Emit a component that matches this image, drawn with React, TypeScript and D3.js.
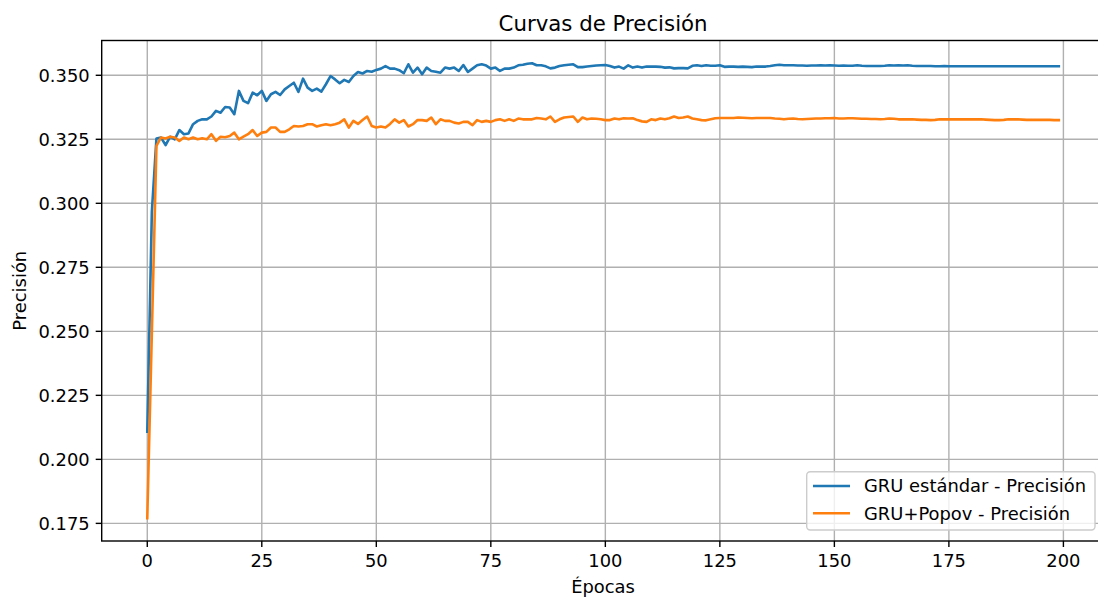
import React from "react";
import * as d3 from "d3";

const epochs: number[] = Array.from({ length: 200 }, (_, i) => i);

const gruStandard: number[] = [
  0.2108, 0.2967, 0.3253, 0.3257, 0.3227, 0.3260, 0.3250, 0.3286, 0.3270, 0.3273,
  0.3309, 0.3322, 0.3328, 0.3328, 0.3339, 0.3361, 0.3354, 0.3376, 0.3374, 0.3348,
  0.3439, 0.3400, 0.3391, 0.3432, 0.3422, 0.3439, 0.3400, 0.3426, 0.3435, 0.3423,
  0.3445, 0.3458, 0.3471, 0.3435, 0.3487, 0.3452, 0.3439, 0.3448, 0.3436, 0.3465,
  0.3497, 0.3484, 0.3469, 0.3482, 0.3474, 0.3497, 0.3513, 0.3507, 0.3517, 0.3514,
  0.3521, 0.3526, 0.3536, 0.3526, 0.3526, 0.3520, 0.3508, 0.3543, 0.3510, 0.3530,
  0.3504, 0.3530, 0.3517, 0.3514, 0.3510, 0.3530, 0.3526, 0.3530, 0.3517, 0.3540,
  0.3513, 0.3526, 0.3539, 0.3543, 0.3538, 0.3526, 0.3530, 0.3517, 0.3526, 0.3526,
  0.3530, 0.3539, 0.3541, 0.3545, 0.3547, 0.3539, 0.3539, 0.3535, 0.3527, 0.3530,
  0.3536, 0.3539, 0.3541, 0.3543, 0.3532, 0.3532, 0.3534, 0.3536, 0.3538, 0.3539,
  0.3540, 0.3536, 0.3530, 0.3534, 0.3526, 0.3539, 0.3530, 0.3534, 0.3530, 0.3534,
  0.3534, 0.3534, 0.3533, 0.3530, 0.3531, 0.3527, 0.3528, 0.3528, 0.3527, 0.3537,
  0.3539, 0.3536, 0.3539, 0.3537, 0.3537, 0.3539, 0.3533, 0.3534, 0.3534, 0.3533,
  0.3534, 0.3533, 0.3532, 0.3534, 0.3534, 0.3534, 0.3536, 0.3539, 0.3541, 0.3539,
  0.3539, 0.3539, 0.3538, 0.3538, 0.3537, 0.3538, 0.3538, 0.3539, 0.3538, 0.3539,
  0.3538, 0.3537, 0.3538, 0.3537, 0.3537, 0.3539, 0.3537, 0.3536, 0.3536, 0.3536,
  0.3536, 0.3537, 0.3539, 0.3538, 0.3539, 0.3538, 0.3539, 0.3537, 0.3536, 0.3536,
  0.3536, 0.3536, 0.3535, 0.3535, 0.3536, 0.3535, 0.3535, 0.3535, 0.3535, 0.3535,
  0.3535, 0.3535, 0.3535, 0.3535, 0.3535, 0.3535, 0.3535, 0.3535, 0.3535, 0.3535,
  0.3535, 0.3535, 0.3535, 0.3535, 0.3535, 0.3535, 0.3535, 0.3535, 0.3535, 0.3535,
];

const gruPopov: number[] = [
  0.1770, 0.2495, 0.3224, 0.3257, 0.3253, 0.3260, 0.3257, 0.3244, 0.3257, 0.3250,
  0.3257, 0.3250, 0.3254, 0.3250, 0.3270, 0.3244, 0.3260, 0.3258, 0.3263, 0.3276,
  0.3250, 0.3260, 0.3270, 0.3286, 0.3263, 0.3276, 0.3279, 0.3296, 0.3296, 0.3279,
  0.3279, 0.3289, 0.3302, 0.3300, 0.3302, 0.3309, 0.3309, 0.3300, 0.3305, 0.3309,
  0.3305, 0.3309, 0.3315, 0.3328, 0.3296, 0.3322, 0.3310, 0.3325, 0.3339, 0.3302,
  0.3296, 0.3300, 0.3296, 0.3310, 0.3328, 0.3315, 0.3325, 0.3300, 0.3309, 0.3325,
  0.3325, 0.3322, 0.3335, 0.3309, 0.3328, 0.3322, 0.3322, 0.3315, 0.3312, 0.3318,
  0.3318, 0.3305, 0.3325, 0.3318, 0.3322, 0.3318, 0.3325, 0.3328, 0.3322, 0.3328,
  0.3322, 0.3331, 0.3328, 0.3328, 0.3328, 0.3333, 0.3331, 0.3328, 0.3339, 0.3318,
  0.3328, 0.3335, 0.3337, 0.3339, 0.3318, 0.3335, 0.3328, 0.3331, 0.3330, 0.3328,
  0.3325, 0.3325, 0.3331, 0.3328, 0.3332, 0.3331, 0.3332, 0.3325, 0.3320, 0.3318,
  0.3328, 0.3325, 0.3331, 0.3328, 0.3332, 0.3339, 0.3333, 0.3335, 0.3339, 0.3331,
  0.3328, 0.3325, 0.3324, 0.3328, 0.3332, 0.3333, 0.3333, 0.3333, 0.3333, 0.3335,
  0.3334, 0.3333, 0.3332, 0.3333, 0.3333, 0.3333, 0.3333, 0.3331, 0.3330, 0.3328,
  0.3330, 0.3331, 0.3329, 0.3328, 0.3329, 0.3330, 0.3331, 0.3331, 0.3332, 0.3332,
  0.3333, 0.3331, 0.3331, 0.3332, 0.3332, 0.3331, 0.3330, 0.3330, 0.3329, 0.3329,
  0.3328, 0.3329, 0.3331, 0.3330, 0.3328, 0.3328, 0.3328, 0.3328, 0.3327, 0.3326,
  0.3326, 0.3325, 0.3326, 0.3328, 0.3328, 0.3328, 0.3328, 0.3328, 0.3328, 0.3328,
  0.3328, 0.3328, 0.3328, 0.3327, 0.3326, 0.3325, 0.3325, 0.3326, 0.3328, 0.3328,
  0.3328, 0.3327, 0.3326, 0.3326, 0.3326, 0.3326, 0.3326, 0.3326, 0.3325, 0.3325,
];

const xTicks: number[] = [0, 25, 50, 75, 100, 125, 150, 175, 200];
const yTicks: number[] = [0.175, 0.2, 0.225, 0.25, 0.275, 0.3, 0.325, 0.35];

const seriesNames: string[] = ["GRU estándar - Precisión", "GRU+Popov - Precisión"];
const seriesColors: string[] = ["#1f77b4", "#ff7f0e"];
const title = "Curvas de Precisión";
const xLabel = "Épocas";
const yLabel = "Precisión";

const W = 1098;
const H = 599;
const left = 101.7;
const right = 1104.4;
const top = 40.5;
const bottom = 541;
const FONT = "DejaVu Sans, Liberation Sans, sans-serif";
const TICK_FS = 17.9;

export default function App() {
  const xMin = d3.min(epochs)!;
  const xMax = d3.max(epochs)!;
  const xm = (xMax - xMin) * 0.05;
  const all = [...gruStandard, ...gruPopov];
  const yMin = d3.min(all)!;
  const yMax = d3.max(all)!;
  const ym = (yMax - yMin) * 0.05;

  const x = d3.scaleLinear().domain([xMin - xm, xMax + xm]).range([left, right]);
  const y = d3.scaleLinear().domain([yMin - ym, yMax + ym]).range([bottom, top]);

  const line = d3
    .line<number>()
    .x((_, i) => x(epochs[i]))
    .y((d) => y(d));

  const series = [gruStandard, gruPopov];

  const legX = 806.7;
  const legY = 471.7;
  const legW = 1095 - 806.7;
  const legH = 530 - 471.7;

  return (
    <svg
      width={W}
      height={H}
      style={{ position: "absolute", left: 0, top: 0, background: "#fff" }}
      fontFamily={FONT}
    >
      <rect x={0} y={0} width={W} height={H} fill="#fff" />
      <g stroke="#b0b0b0" strokeWidth={1.4}>
        {xTicks.map((t) => (
          <line key={"gx" + t} x1={x(t)} x2={x(t)} y1={top} y2={bottom} />
        ))}
        {yTicks.map((t) => (
          <line key={"gy" + t} x1={left} x2={right} y1={y(t)} y2={y(t)} />
        ))}
      </g>
      {series.map((s, i) => (
        <path
          key={"s" + i}
          d={line(s) || ""}
          fill="none"
          stroke={seriesColors[i]}
          strokeWidth={2.6}
          strokeLinejoin="round"
          strokeLinecap="square"
        />
      ))}
      <rect
        x={left}
        y={top}
        width={right - left}
        height={bottom - top}
        fill="none"
        stroke="#000"
        strokeWidth={1.4}
      />
      {xTicks.map((t) => (
        <g key={"xt" + t}>
          <line x1={x(t)} x2={x(t)} y1={bottom} y2={bottom + 6} stroke="#000" strokeWidth={1.4} />
          <text
            x={x(t)}
            y={bottom + 12}
            dy="0.76em"
            textAnchor="middle"
            fontSize={TICK_FS}
            fill="#000"
          >
            {t}
          </text>
        </g>
      ))}
      {yTicks.map((t) => (
        <g key={"yt" + t}>
          <line x1={left - 6} x2={left} y1={y(t)} y2={y(t)} stroke="#000" strokeWidth={1.4} />
          <text
            x={left - 12}
            y={y(t)}
            dy="0.36em"
            textAnchor="end"
            fontSize={TICK_FS}
            fill="#000"
          >
            {d3.format(".3f")(t)}
          </text>
        </g>
      ))}
      <text x={(left + right) / 2} y={593} textAnchor="middle" fontSize={TICK_FS} fill="#000">
        {xLabel}
      </text>
      <text
        transform={`translate(26, ${(top + bottom) / 2}) rotate(-90)`}
        textAnchor="middle"
        fontSize={TICK_FS}
        fill="#000"
      >
        {yLabel}
      </text>
      <text x={(left + right) / 2} y={30.5} textAnchor="middle" fontSize={21.3} fill="#000">
        {title}
      </text>
      <rect
        x={legX}
        y={legY}
        width={legW}
        height={legH}
        rx={3.5}
        fill="#fff"
        fillOpacity={0.8}
        stroke="#cccccc"
        strokeWidth={1.4}
      />
      {seriesNames.map((n, i) => {
        const cy = 486 + i * 27.3;
        return (
          <g key={"lg" + i}>
            <line x1={813} x2={850} y1={cy} y2={cy} stroke={seriesColors[i]} strokeWidth={2.6} />
            <text x={864} y={cy} dy="0.36em" fontSize={TICK_FS} fill="#000">
              {n}
            </text>
          </g>
        );
      })}
    </svg>
  );
}
